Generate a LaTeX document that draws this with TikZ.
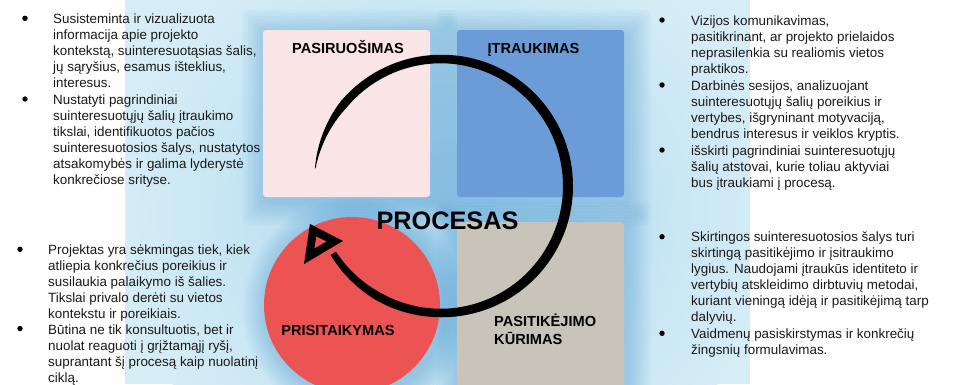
\documentclass[tikz,border=0pt]{standalone}
\usepackage{fontspec}
\setmainfont{Liberation Sans}
\definecolor{bgblue}{RGB}{214,237,246}
\definecolor{midblue}{RGB}{170,215,238}
\definecolor{glow}{RGB}{30,120,200}
\definecolor{pinksq}{RGB}{250,229,230}
\definecolor{bluesq}{RGB}{108,156,216}
\definecolor{greysq}{RGB}{200,196,186}
\definecolor{redc}{RGB}{236,84,84}
\tikzset{
  body/.style={font=\fontsize{13.4}{16}\selectfont, align=left, inner sep=0pt, anchor=base west, text=black!90},
  lab/.style={font=\bfseries\fontsize{14.6}{18}\selectfont, inner sep=0pt, anchor=base},
  bigl/.style={font=\bfseries\fontsize{25.3}{28}\selectfont, inner sep=0pt, anchor=base},
  dot/.style={circle, fill=black, inner sep=0pt, minimum size=5.4pt},
}
\begin{document}
\begin{tikzpicture}[x=1pt,y=-1pt,
  declare function={sw(\t)=min(8.5,0.6+(\t-188)*0.25)+1.5*max(0,cos(\t))-max(0,(\t-480)*0.08);}]
\useasboundingbox (0,0) rectangle (957,384);
\fill[white] (0,0) rectangle (957,384);
% background
\fill[bgblue] (125,0) rectangle (750,384);
\begin{scope}
  \clip (125,0) rectangle (750,384);
  \shade[inner color=midblue, outer color=bgblue] (445,215) ellipse [x radius=330, y radius=300];
  % glows
  \foreach \i in {1,...,8} {
    \fill[glow, opacity=0.035, rounded corners=6pt] (263-3*\i+3,30-3*\i+4) rectangle (430+3*\i+3,197+3*\i+4);
    \fill[glow, opacity=0.035, rounded corners=6pt] (457-3*\i+3,30-3*\i+4) rectangle (624+3*\i+3,197+3*\i+4);
    \fill[glow, opacity=0.035, rounded corners=6pt] (457-3*\i+3,222-3*\i+4) rectangle (624+3*\i+3,400);
    \fill[glow, opacity=0.035] (355,309) circle (88+3*\i);
  }
\end{scope}
% squares and circle
\fill[pinksq, rounded corners=3pt] (263,30) rectangle (430,197);
\fill[bluesq, rounded corners=3pt] (457,30) rectangle (624,197);
\fill[greysq, rounded corners=3pt] (457,222) rectangle (624,390);
\fill[redc] (352,305) circle (88);
% labels
\node[lab] (pas) at (348,53.2) {PASIRUOŠIMAS};
\node[lab] (itr) at (533.5,53.2) {ĮTRAUKIMAS};
\node[lab] (pri) at (338,335.2) {PRISITAIKYMAS};
\node[lab, anchor=base west, align=left] (kur) at (494,344.2) {PASITIKĖJIMO\\KŪRIMAS};
\node[bigl] (proc) at (447.5,229) {PROCESAS};
% brush arc
\fill[black] plot[domain=188:508, samples=160, smooth] ({441+(127+0.5*sw(\x))*cos(\x)}, {186+(127+0.5*sw(\x))*sin(\x)})
  -- plot[domain=508:188, samples=160, smooth] ({441+(127-0.5*sw(\x))*cos(\x)}, {186+(127-0.5*sw(\x))*sin(\x)}) -- cycle;
\draw[line width=8pt, line join=miter] (313.1,230.1) -- (309.2,256.3) -- (334.7,241.2) -- cycle;
% text blocks (anchor = baseline of last line)
\node[dot] (b1) at (25,18.3) {};
\node[body] (t1) at (53,87.3) {Susisteminta ir vizualizuota\\informacija apie projekto\\kontekstą, suinteresuotąsias šalis,\\jų sąryšius, esamus išteklius,\\interesus.};
\node[dot] (b2) at (25,99) {};
\node[body] (t2) at (53,184) {Nustatyti pagrindiniai\\suinteresuotųjų šalių įtraukimo\\tikslai, identifikuotos pačios\\suinteresuotosios šalys, nustatytos\\atsakomybės ir galima lyderystė\\konkrečiose srityse.};
\node[dot] (b3) at (20,249.3) {};
\node[body] (t3) at (48,318.3) {Projektas yra sėkmingas tiek, kiek\\atliepia konkrečius poreikius ir\\susilaukia palaikymo iš šalies.\\Tikslai privalo derėti su vietos\\kontekstu ir poreikiais.};
\node[dot] (b4) at (20,328.5) {};
\node[body] (t4) at (48,382.3) {Būtina ne tik konsultuotis, bet ir\\nuolat reaguoti į grįžtamąjį ryšį,\\suprantant šį procesą kaip nuolatinį\\ciklą.};
\node[dot] (b5) at (662,20) {};
\node[body] (t5) at (691,73) {Vizijos komunikavimas,\\pasitikrinant, ar projekto prielaidos\\neprasilenkia su realiomis vietos\\praktikos.};
\node[dot] (b6) at (662,85) {};
\node[body] (t6) at (691,138) {Darbinės sesijos, analizuojant\\suinteresuotųjų šalių poreikius ir\\vertybes, išgryninant motyvaciją,\\bendrus interesus ir veiklos kryptis.};
\node[dot] (b7) at (662,150) {};
\node[body] (t7) at (691,187) {išskirti pagrindiniai suinteresuotųjų\\šalių atstovai, kurie toliau aktyviai\\bus įtraukiami į procesą.};
\node[dot] (b8) at (662,236.7) {};
\node[body] (t8) at (691,321.7) {Skirtingos suinteresuotosios šalys turi\\skirtingą pasitikėjimo ir įsitraukimo\\lygius. Naudojami įtraukūs identiteto ir\\vertybių atskleidimo dirbtuvių metodai,\\kuriant vieningą idėją ir pasitikėjimą tarp\\dalyvių.};
\node[dot] (b9) at (662,333.3) {};
\node[body] (t9) at (691,354.3) {Vaidmenų pasiskirstymas ir konkrečių\\žingsnių formulavimas.};
\end{tikzpicture}
\end{document}
